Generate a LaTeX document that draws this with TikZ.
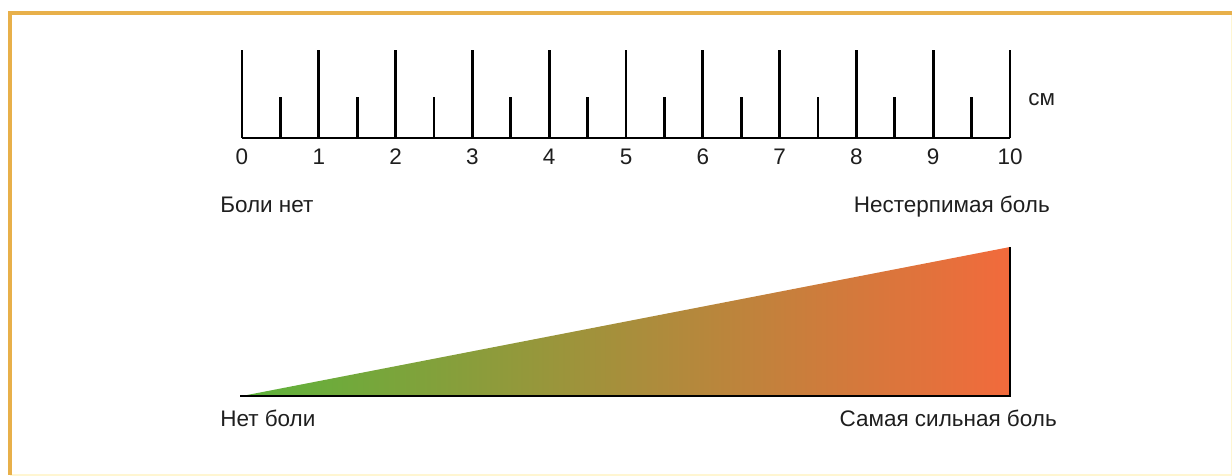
\documentclass[tikz,border=0pt]{standalone}
\usepackage{fontspec}
\setmainfont{Liberation Sans}
\usepackage{tikz}
\usepackage{xcolor}
\definecolor{framec}{HTML}{E8B04A}
\definecolor{paleframec}{HTML}{FFF6D2}
\definecolor{inkc}{HTML}{1E1E1E}
\definecolor{nopainc}{HTML}{5DB33B}
\definecolor{midpainc}{HTML}{C0A045}
\definecolor{maxpainc}{HTML}{F26A3C}
\tikzset{
  frame/.style={draw=framec, line width=2.8pt},
  paleframe/.style={draw=paleframec, line width=1pt},
  tick/.style={draw=black, line width=2.1pt},
  num/.style={text=inkc, font=\fontsize{16}{19}\selectfont, inner sep=0pt},
  caption/.style={text=inkc, font=\fontsize{16}{19}\selectfont, inner sep=0pt},
  wedge/.style={left color=nopainc, middle color=midpainc, right color=maxpainc},
}
\begin{document}
\begin{tikzpicture}
\useasboundingbox (0,0) rectangle (30.800,11.900);
\draw[paleframe] (30.780,11.575) -- (30.780,0.020) -- (0.250,0.020);
\draw[frame] (0.250,0.020) -- (0.250,11.575) -- (30.800,11.575);
% ruler
\draw[tick] (6.050,8.450) -- (25.250,8.450);
\draw[tick] (6.050,8.450) -- (6.050,10.650) (7.970,8.450) -- (7.970,10.650) (9.890,8.450) -- (9.890,10.650) (11.810,8.450) -- (11.810,10.650) (13.730,8.450) -- (13.730,10.650) (15.650,8.450) -- (15.650,10.650) (17.570,8.450) -- (17.570,10.650) (19.490,8.450) -- (19.490,10.650) (21.410,8.450) -- (21.410,10.650) (23.330,8.450) -- (23.330,10.650) (25.250,8.450) -- (25.250,10.650);
\draw[tick] (7.010,8.450) -- (7.010,9.475) (8.930,8.450) -- (8.930,9.475) (10.850,8.450) -- (10.850,9.475) (12.770,8.450) -- (12.770,9.475) (14.690,8.450) -- (14.690,9.475) (16.610,8.450) -- (16.610,9.475) (18.530,8.450) -- (18.530,9.475) (20.450,8.450) -- (20.450,9.475) (22.370,8.450) -- (22.370,9.475) (24.290,8.450) -- (24.290,9.475);
\node[num] (n0) at (6.050,7.975) {0};
\node[num] (n1) at (7.970,7.975) {1};
\node[num] (n2) at (9.890,7.975) {2};
\node[num] (n3) at (11.810,7.975) {3};
\node[num] (n4) at (13.730,7.975) {4};
\node[num] (n5) at (15.650,7.975) {5};
\node[num] (n6) at (17.570,7.975) {6};
\node[num] (n7) at (19.490,7.975) {7};
\node[num] (n8) at (21.410,7.975) {8};
\node[num] (n9) at (23.330,7.975) {9};
\node[num] (n10) at (25.250,7.975) {10};
\node[num, anchor=base west] (unit) at (25.700,9.250) {см};
\node[caption, anchor=base west] (nopain) at (5.500,6.575) {Боли нет};
\node[caption, anchor=base east] (maxpain) at (26.250,6.575) {Нестерпимая боль};
% wedge
\shade[wedge] (6.050,2.000) -- (25.250,5.725) -- (25.250,2.000) -- cycle;
\draw[tick, line width=1.6pt] (6.000,2.000) -- (25.250,2.000) -- (25.250,5.725);
\node[caption, anchor=base west] (none) at (5.500,1.225) {Нет боли};
\node[caption, anchor=base east] (worst) at (26.425,1.225) {Самая сильная боль};
\end{tikzpicture}
\end{document}
